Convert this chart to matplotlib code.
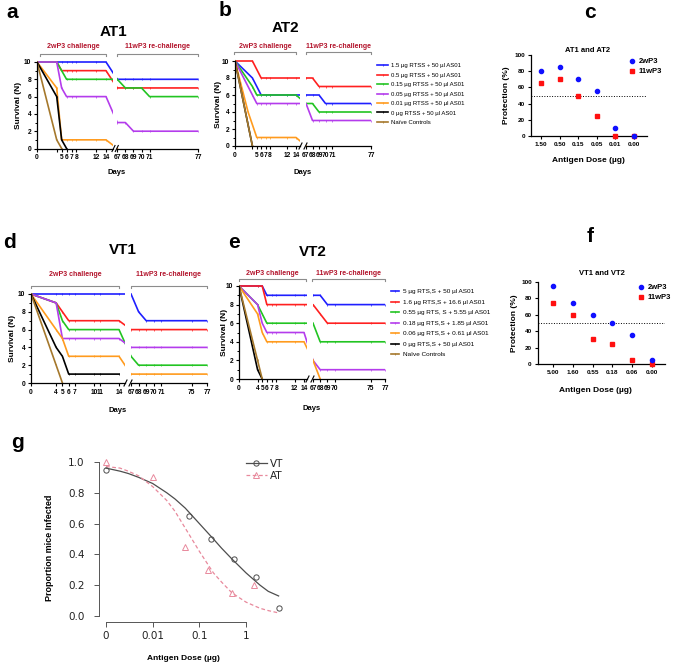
import numpy as np
import matplotlib
matplotlib.use('Agg')
import matplotlib.pyplot as plt
from matplotlib.lines import Line2D

plt.rcParams['font.family'] = ['Liberation Sans', 'DejaVu Sans']
plt.rcParams['font.weight'] = 'bold'
plt.rcParams['axes.linewidth'] = 0.9

W, H = 676, 669

# ---------------- survival data (panels a, b, d, e) ----------------
COLORS = ['#1f1fff', '#ff2020', '#22c422', '#b43cec', '#ff9b1e', '#000000', '#a5782c']

at_legend = ['1.5 µg RTSS + 50 µl AS01', '0.5 µg RTSS + 50 µl AS01',
             '0.15 µg RTSS + 50 µl AS01', '0.05 µg RTSS + 50 µl AS01',
             '0.01 µg RTSS + 50 µl AS01', '0 µg RTSS + 50 µl AS01',
             'Naïve Controls']
vt_legend = ['5 µg RTS,S + 50 µl AS01', '1.6 µg RTS,S + 16.6 µl AS01',
             '0.55 µg RTS, S + 5.55 µl AS01', '0.18 µg RTS,S + 1.85 µl AS01',
             '0.06 µg RTS,S + 0.61 µl AS01', '0 µg RTS,S + 50 µl AS01',
             'Naïve Controls']

at1_days = [
    [0, 4, 5, 6, 7, 8, 12, 14, 67, 68, 69, 70, 71, 77],
    [0, 4, 5, 6, 7, 8, 12, 14, 67, 68, 69, 70, 71, 77],
    [0, 4, 5, 6, 7, 8, 12, 14, 67, 68, 69, 70, 71, 77],
    [0, 4, 5, 6, 7, 8, 12, 14, 67, 68, 69, 70, 71, 77],
    [0, 4, 5, 6, 7, 8, 12, 14, 67],
    [0, 4, 5, 6],
    [0, 4, 5],
]
at1_surv = [
    [10, 10, 10, 10, 10, 10, 10, 10, 8, 8, 8, 8, 8, 8],
    [10, 10, 9, 9, 9, 9, 9, 9, 7, 7, 7, 7, 7, 7],
    [10, 10, 9, 8, 8, 8, 8, 8, 8, 7, 7, 7, 6, 6],
    [10, 10, 7, 6, 6, 6, 6, 6, 3, 3, 2, 2, 2, 2],
    [10, 7, 1, 1, 1, 1, 1, 1, 0],
    [10, 6, 1, 0],
    [10, 1, 0],
]

at2_days = [
    [0, 4, 6, 7, 8, 12, 14, 67, 68, 69, 70, 71, 77],
    [0, 4, 6, 7, 8, 12, 14, 67, 68, 69, 70, 71, 77],
    [0, 4, 5, 6, 7, 8, 12, 14, 67, 68, 69, 70, 71, 77],
    [0, 4, 5, 6, 7, 8, 12, 14, 67, 68, 69, 70, 71, 77],
    [0, 3, 5, 6, 7, 8, 12, 14, 67],
    [0, 4],
    [0, 4],
]
at2_surv = [
    [10, 8, 6, 6, 6, 6, 6, 6, 6, 6, 5, 5, 5],
    [10, 10, 8, 8, 8, 8, 8, 8, 8, 7, 7, 7, 7],
    [10, 7, 6, 6, 6, 6, 6, 6, 5, 5, 4, 4, 4, 4],
    [10, 6, 5, 5, 5, 5, 5, 5, 5, 3, 3, 3, 3, 3],
    [10, 4, 1, 1, 1, 1, 1, 1, 0],
    [10, 0],
    [10, 0],
]

vt1_days = [
    [0, 4, 5, 6, 7, 10, 11, 14, 67, 68, 69, 70, 71, 75, 77],
    [0, 4, 5, 6, 7, 10, 11, 14, 67, 68, 69, 70, 71, 75, 77],
    [0, 4, 5, 6, 7, 10, 11, 14, 67, 68, 69, 70, 71, 75, 77],
    [0, 4, 5, 6, 7, 10, 11, 14, 67, 68, 69, 70, 71, 75, 77],
    [0, 4, 5, 6, 7, 10, 11, 14, 67, 68, 69, 70, 71, 75, 77],
    [0, 4, 5, 6, 7, 10, 11, 14],
    [0, 4, 5],
]
vt1_surv = [
    [10, 10, 10, 10, 10, 10, 10, 10, 10, 8, 7, 7, 7, 7, 7],
    [10, 9, 8, 7, 7, 7, 7, 7, 6, 6, 6, 6, 6, 6, 6],
    [10, 9, 7, 6, 6, 6, 6, 6, 3, 2, 2, 2, 2, 2, 2],
    [10, 9, 5, 5, 5, 5, 5, 5, 4, 4, 4, 4, 4, 4, 4],
    [10, 6, 5, 3, 3, 3, 3, 3, 1, 1, 1, 1, 1, 1, 1],
    [10, 4, 3, 1, 1, 1, 1, 1],
    [10, 2, 0],
]

vt2_days = [
    [0, 4, 5, 6, 7, 8, 12, 14, 67, 68, 69, 70, 75, 77],
    [0, 4, 5, 6, 7, 8, 12, 14, 67, 68, 69, 70, 75, 77],
    [0, 4, 5, 6, 7, 8, 12, 14, 67, 68, 69, 70, 75, 77],
    [0, 4, 5, 6, 7, 8, 12, 14, 67, 68, 69, 70, 75, 77],
    [0, 4, 5, 6, 7, 8, 12, 14, 67, 68],
    [0, 4, 5],
    [0, 4, 5],
]
vt2_surv = [
    [10, 10, 10, 9, 9, 9, 9, 9, 9, 9, 8, 8, 8, 8],
    [10, 10, 10, 8, 8, 8, 8, 8, 8, 7, 6, 6, 6, 6],
    [10, 8, 7, 6, 6, 6, 6, 6, 6, 4, 4, 4, 4, 4],
    [10, 8, 6, 5, 5, 5, 5, 5, 2, 1, 1, 1, 1, 1],
    [10, 7, 5, 4, 4, 4, 4, 4, 2, 0],
    [10, 1, 0],
    [10, 2, 0],
]

# ---------------- protection data (panels c, f) ----------------
at_doses = ['1.50', '0.50', '0.15', '0.05', '0.01', '0.00']
at_prot_2wp3 = [80, 85, 70, 55, 10, 0]
at_prot_11wp3 = [65, 70, 50, 25, 0, 0]
vt_doses = ['5.00', '1.60', '0.55', '0.18', '0.06', '0.00']
vt_prot_2wp3 = [95, 75, 60, 50, 35, 5]
vt_prot_11wp3 = [75, 60, 30, 25, 5, 0]

# ---------------- dose response (panel g) ----------------
vt_dose = [0, 0.06, 0.18, 0.55, 1.6, 5.0]
vt_infected = [0.95, 0.65, 0.50, 0.37, 0.25, 0.05]
at_dose = [0, 0.01, 0.05, 0.15, 0.5, 1.5]
at_infected = [1.0, 0.90, 0.45, 0.30, 0.15, 0.20]
fit_dose = [0.001, 0.002, 0.003, 0.005, 0.01, 0.02, 0.03, 0.05, 0.1, 0.2, 0.3,
            0.5, 1, 2, 3, 5]
vt_fit = [0.96, 0.94, 0.925, 0.90, 0.86, 0.80, 0.76, 0.70, 0.60, 0.50, 0.44,
          0.37, 0.28, 0.20, 0.16, 0.13]
at_fit = [0.97, 0.96, 0.94, 0.91, 0.84, 0.75, 0.68, 0.57, 0.42, 0.28, 0.22,
          0.15, 0.09, 0.05, 0.035, 0.02]

fig = plt.figure(figsize=(W / 100, H / 100), dpi=100)


def box(x0, y0, x1, y1):
    return [x0 / W, 1 - y1 / H, (x1 - x0) / W, (y1 - y0) / H]


def txt(x, y, s, size, **kw):
    kw.setdefault('ha', 'center')
    kw.setdefault('va', 'center')
    fig.text(x / W, 1 - y / H, s, fontsize=size, **kw)


def fline(xs, ys, **kw):
    fig.add_artist(Line2D([x / W for x in xs], [1 - y / H for y in ys], **kw))


def piecewise(knots, vals):
    knots = np.asarray(knots, float)
    vals = np.asarray(vals, float)
    s0 = (vals[1] - vals[0]) / (knots[1] - knots[0])
    s1 = (vals[-1] - vals[-2]) / (knots[-1] - knots[-2])

    def f(x):
        x = np.asarray(x, float)
        y = np.interp(x, knots, vals)
        y = np.where(x < knots[0], vals[0] + (x - knots[0]) * s0, y)
        return np.where(x > knots[-1], vals[-1] + (x - knots[-1]) * s1, y)
    return f


def bracket(x0, x1, y, label, ty):
    fline([x0, x0, x1, x1], [y + 2, y, y, y + 2], color='#8c8c8c', lw=0.8)
    txt((x0 + x1) / 2, ty, label, 5, color='#b3142c')


def survival(days, surv, px, y10, y0, left_end, lticks, llabels, rticks):
    # px: pixel x of day 0, 14, 67, 77 -> lines across the break are drawn
    # straight in display space, like the broken axis of the original
    knots = [0, 14, 67, 77]
    fwd = piecewise(knots, px)
    inv = piecewise(px, knots)
    unit = (y0 - y10) / 10
    top = y10 - 0.4 * unit
    axl = fig.add_axes(box(px[0], top, left_end, y0))
    axr = fig.add_axes(box(px[2], top, px[3], y0))
    for ax in (axl, axr):
        ax.set_xscale('function', functions=(fwd, inv))
        ax.set_ylim(0, 10.4)
        ax.patch.set_alpha(0)
        for sp in ('top', 'right'):
            ax.spines[sp].set_visible(False)
        ax.tick_params(labelsize=4.8, length=2.5, width=0.8, pad=1.5)
        ax.tick_params(which='minor', length=1.5, width=0.7)
    axl.set_xlim(0, float(inv(left_end)))
    axr.set_xlim(67, 77)
    axl.set_xticks(lticks, llabels)
    axl.xaxis.set_minor_locator(matplotlib.ticker.NullLocator())
    axr.set_xticks(rticks, [str(t) for t in rticks])
    axr.xaxis.set_minor_locator(matplotlib.ticker.NullLocator())
    axl.set_yticks([0, 2, 4, 6, 8, 10])
    axl.set_yticks([1, 3, 5, 7, 9], minor=True)
    axl.spines['left'].set_bounds(0, 10)
    axr.spines['left'].set_visible(False)
    axr.set_yticks([])
    handles = []
    for d, s, c in zip(days, surv, COLORS):
        for ax in (axl, axr):
            h, = ax.plot(d, s, color=c, lw=1.2, marker='|', ms=1.6, mew=0.5)
        handles.append(h)
    # axis break marks
    for xc in (left_end + 0.5, px[2] - 0.5):
        fline([xc - 1.5, xc + 1.5], [y0 + 3, y0 - 3], color='k', lw=0.8)
    return handles


# ---- panel a ----
survival(at1_days, at1_surv, [37, 106, 117.3, 198], 62, 148.5, 113,
         [0, 4, 5, 6, 7, 8, 12, 14], ['0', '', '5', '6', '7', '8', '12', '14'],
         [67, 68, 69, 70, 71, 77])
txt(12, 12, 'a', 15)
txt(113, 32, 'AT1', 11)
bracket(40, 106, 54, '2wP3 challenge', 47)
bracket(117, 198, 54, '11wP3 re-challenge', 47)
txt(19, 105, 'Survival (N)', 6, rotation=90)
txt(117, 173, 'Days', 5.5)

# ---- panel b ----
hb = survival(at2_days, at2_surv, [235, 296, 306, 371], 61, 146, 300,
              [0, 4, 5, 6, 7, 8, 12, 14], ['0', '', '5', '6', '7', '8', '12', '14'],
              [67, 68, 69, 70, 71, 77])
txt(225, 11, 'b', 15)
txt(285, 28, 'AT2', 11)
bracket(234, 296, 52, '2wP3 challenge', 47)
bracket(306, 371, 52, '11wP3 re-challenge', 47)
txt(219, 104, 'Survival (N)', 6, rotation=90)
txt(303, 173, 'Days', 5.5)
fig.legend(hb, at_legend, loc='upper left', bbox_to_anchor=(377 / W, 1 - 63 / H),
           frameon=False, prop={'size': 4.3, 'weight': 'normal'},
           handlelength=1.9, handletextpad=0.5, labelspacing=0.72, borderpad=0,
           borderaxespad=0)

# ---- panel d ----
survival(vt1_days, vt1_surv, [31, 119, 131, 207], 294, 383, 125,
         [0, 4, 5, 6, 7, 10, 11, 14], ['0', '4', '5', '6', '7', '10', '11', '14'],
         [67, 68, 69, 70, 71, 75, 77])
txt(9, 243, 'd', 15)
txt(123, 250, 'VT1', 11)
bracket(31, 119, 286, '2wP3 challenge', 275)
bracket(131, 207, 286, '11wP3 re-challenge', 275)
txt(13, 338, 'Survival (N)', 6, rotation=90)
txt(118, 410, 'Days', 5.5)

# ---- panel e ----
he = survival(vt2_days, vt2_surv, [239, 304, 313, 385], 286, 379, 307,
              [0, 4, 5, 6, 7, 8, 12, 14], ['0', '4', '5', '6', '7', '8', '12', '14'],
              [67, 68, 69, 70, 75, 77])
txt(234, 243, 'e', 15)
txt(313, 252, 'VT2', 11)
bracket(239, 306, 279, '2wP3 challenge', 273)
bracket(312, 385, 279, '11wP3 re-challenge', 273)
txt(224, 332, 'Survival (N)', 6, rotation=90)
txt(312, 408, 'Days', 5.5)
fig.legend(he, vt_legend, loc='upper left', bbox_to_anchor=(391 / W, 1 - 289 / H),
           frameon=False, prop={'size': 4.6, 'weight': 'normal'},
           handlelength=1.3, handletextpad=0.6, labelspacing=0.78, borderpad=0,
           borderaxespad=0)


# ---- panels c and f ----
def protection(cats, p2, p11, rect, xlim, title, title_xy, leg_top, leg_x):
    ax = fig.add_axes(box(*rect))
    pos = np.arange(len(cats))
    ax.set_xlim(*xlim)
    ax.set_ylim(0, 100)
    ax.axhline(50, color='k', ls=':', lw=0.7)
    ax.plot(pos, p11, 's', color='#ff1010', ms=2.8, clip_on=False, zorder=3,
            label='11wP3')
    ax.plot(pos, p2, 'o', color='#1010ff', ms=3.0, clip_on=False, zorder=4,
            label='2wP3')
    ax.set_xticks(pos, cats)
    ax.set_yticks([0, 20, 40, 60, 80, 100])
    ax.tick_params(labelsize=4.6, length=2.5, width=0.8, pad=2)
    for sp in ('top', 'right'):
        ax.spines[sp].set_visible(False)
    ax.patch.set_alpha(0)
    h = ax.get_legend_handles_labels()[0]
    fig.legend([h[1], h[0]], ['2wP3', '11wP3'], loc='upper left',
               bbox_to_anchor=(leg_x / W, 1 - leg_top / H), frameon=False,
               prop={'size': 5.5, 'weight': 'bold'}, handlelength=0.8,
               handletextpad=0.5, labelspacing=0.35, borderpad=0, borderaxespad=0)
    txt(title_xy[0], title_xy[1], title, 5.5)
    return ax


protection(at_doses, at_prot_2wp3, at_prot_11wp3, (531, 55, 647, 136),
           (-0.54, 5.7), 'AT1 and AT2', (588, 50), 58, 629)
txt(590, 13, 'c', 15)
txt(507, 95, 'Protection (%)', 6, rotation=90)
txt(588, 160, 'Antigen Dose (µg)', 6)

protection(vt_doses, vt_prot_2wp3, vt_prot_11wp3, (538, 282, 665, 364),
           (-0.76, 5.66), 'VT1 and VT2', (602, 273), 284, 638)
txt(590, 237, 'f', 15)
txt(515, 323, 'Protection (%)', 6, rotation=90)
txt(595, 390, 'Antigen Dose (µg)', 6)

# ---- panel g ----
axg = fig.add_axes(box(99, 455, 290, 622))
axg.set_xscale('log')
axg.set_xlim(10 ** -3.15, 10 ** 0.943)
axg.set_ylim(-0.039, 1.045)
vt_x = np.where(np.array(vt_dose) == 0, 0.001, vt_dose)
at_x = np.where(np.array(at_dose) == 0, 0.001, at_dose)
axg.plot(fit_dose, vt_fit, color='#4d4d4d', lw=0.9)
axg.plot(fit_dose, at_fit, color='#e8899c', lw=0.9, ls=(0, (3, 2)))
axg.plot(vt_x, vt_infected, 'o', mfc='none', mec='#4d4d4d', ms=3.8, mew=0.7,
         clip_on=False)
axg.plot(at_x, at_infected, '^', mfc='none', mec='#e8899c', ms=4.5, mew=0.7,
         clip_on=False)
for sp in ('top', 'right'):
    axg.spines[sp].set_visible(False)
for sp in ('left', 'bottom'):
    axg.spines[sp].set_color('#555555')
    axg.spines[sp].set_linewidth(0.7)
axg.spines['left'].set_bounds(0, 1)
axg.spines['bottom'].set_bounds(0.001, 1)
axg.set_xticks([0.001, 0.01, 0.1, 1], ['0', '0.01', '0.1', '1'])
axg.xaxis.set_minor_locator(matplotlib.ticker.NullLocator())
axg.set_yticks([0, 0.2, 0.4, 0.6, 0.8, 1.0], ['0.0', '0.2', '0.4', '0.6', '0.8', '1.0'])
axg.tick_params(axis='both', length=3.5, width=0.7, color='#555555',
                labelcolor='#222222')
for lab in axg.get_xticklabels() + axg.get_yticklabels():
    lab.set_family('DejaVu Sans')
    lab.set_fontweight('normal')
    lab.set_fontsize(7.5)
axg.tick_params(axis='y', pad=7)
axg.tick_params(axis='x', pad=3)
axg.patch.set_alpha(0)
gh = [Line2D([], [], color='#4d4d4d', lw=0.9, marker='o', mfc='none', mec='#4d4d4d',
             ms=3.8, mew=0.7),
      Line2D([], [], color='#e8899c', lw=0.9, ls=(0, (3, 2)), marker='^', mfc='none',
             mec='#e8899c', ms=4.5, mew=0.7)]
fig.legend(gh, ['VT', 'AT'], loc='upper left', bbox_to_anchor=(246 / W, 1 - 459 / H),
           frameon=False, prop={'family': 'DejaVu Sans', 'size': 7.5, 'weight': 'normal'},
           handlelength=2.0, handletextpad=0.3, labelspacing=0.2, borderpad=0,
           borderaxespad=0, labelcolor='#222222')
txt(18, 443, 'g', 15)
txt(50, 548, 'Proportion mice Infected', 6.5, rotation=90)
txt(183, 658, 'Antigen Dose (µg)', 6)

fig.savefig('out.png', dpi=100)
